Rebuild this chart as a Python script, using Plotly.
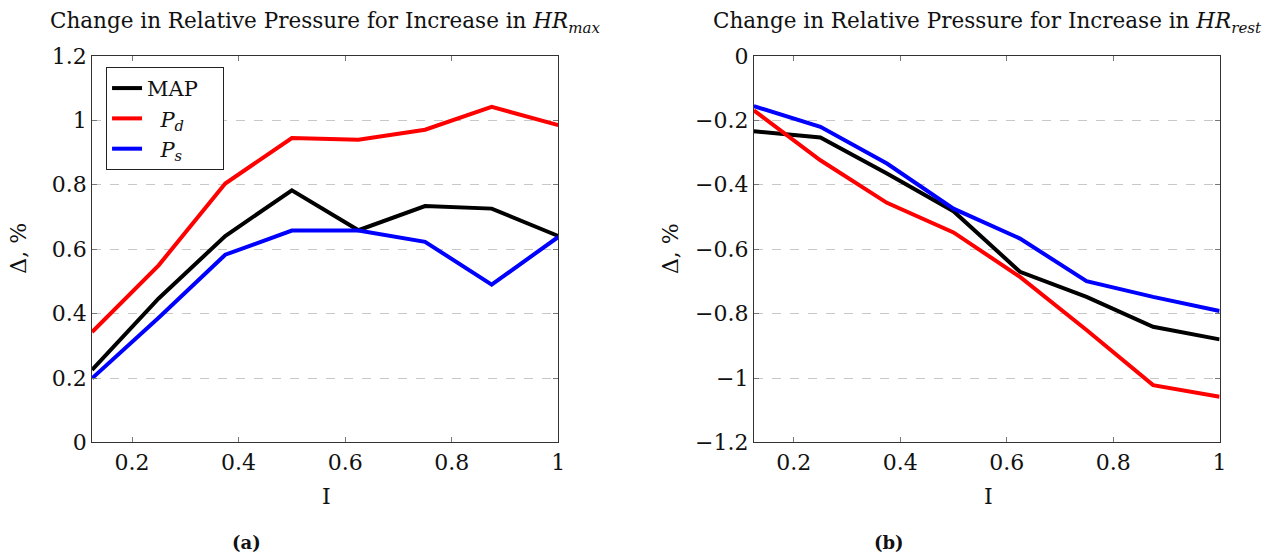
import plotly.graph_objects as go

W, H = 1271, 566

# ---- data ----
intensity = [0.125, 0.25, 0.375, 0.5, 0.625, 0.75, 0.875, 1.0]

hrmax_map = [0.225, 0.447, 0.641, 0.783, 0.659, 0.734, 0.726, 0.641]
hrmax_pd = [0.343, 0.550, 0.804, 0.945, 0.940, 0.971, 1.042, 0.985]
hrmax_ps = [0.199, 0.387, 0.583, 0.658, 0.658, 0.623, 0.490, 0.638]

hrrest_map = [-0.234, -0.253, -0.365, -0.482, -0.670, -0.748, -0.841, -0.880]
hrrest_pd = [-0.169, -0.324, -0.456, -0.548, -0.686, -0.851, -1.022, -1.058]
hrrest_ps = [-0.156, -0.220, -0.334, -0.474, -0.567, -0.699, -0.748, -0.792]

x_tickvals = [0.2, 0.4, 0.6, 0.8, 1.0]
x_ticktext = ["0.2", "0.4", "0.6", "0.8", "1"]
yl_tickvals = [0, 0.2, 0.4, 0.6, 0.8, 1.0, 1.2]
yl_ticktext = ["0", "0.2", "0.4", "0.6", "0.8", "1", "1.2"]
yr_tickvals = [-1.2, -1.0, -0.8, -0.6, -0.4, -0.2, 0]
yr_ticktext = ["\u22121.2", "\u22121", "\u22120.8", "\u22120.6", "\u22120.4", "\u22120.2", "0"]

series_names = ["MAP\u00a0\u00a0\u00a0",
                "\u00a0\u00a0<i>P</i><sub><i>d</i></sub>",
                "\u00a0\u00a0<i>P</i><sub><i>s</i></sub>"]
colors = ["#000000", "#ff0000", "#0000ff"]

FONT = "DejaVu Serif"
FS = 22


# layout helpers: convert target picture pixels to paper fractions
def X(px):
    return (px / 0.994) / W


def Y(py):
    return (H - (py - 10) / 0.957) / H


fig = go.Figure()
left = [hrmax_map, hrmax_pd, hrmax_ps]
right = [hrrest_map, hrrest_pd, hrrest_ps]
for i in range(3):
    fig.add_trace(go.Scatter(x=intensity, y=left[i], mode="lines", name=series_names[i],
                             line=dict(color=colors[i], width=4), xaxis="x", yaxis="y",
                             showlegend=True))
for i in range(3):
    fig.add_trace(go.Scatter(x=intensity, y=right[i], mode="lines", name=series_names[i],
                             line=dict(color=colors[i], width=4), xaxis="x2", yaxis="y2",
                             showlegend=False))

ydom = [Y(441), Y(54)]
axis_common = dict(showline=True, linecolor="#333", linewidth=1, mirror="allticks",
                   ticks="inside", ticklen=5, tickcolor="#777", tickwidth=1,
                   tickfont=dict(family=FONT, size=FS, color="#111"), zeroline=False)

fig.update_layout(
    width=W, height=H, margin=dict(l=0, r=0, t=0, b=0),
    paper_bgcolor="white", plot_bgcolor="white",
    font=dict(family=FONT, size=FS, color="#111"),
    xaxis=dict(domain=[X(92), X(558)], range=[0.125, 1.0], tickvals=x_tickvals,
               ticktext=x_ticktext, showgrid=False, anchor="y", **axis_common),
    yaxis=dict(domain=ydom, range=[0, 1.2], tickvals=yl_tickvals, ticktext=yl_ticktext,
               showgrid=True, gridcolor="#c8c8c8", griddash="dash", gridwidth=1,
               anchor="x", **axis_common),
    xaxis2=dict(domain=[X(753.5), X(1219)], range=[0.125, 1.0], tickvals=x_tickvals,
                ticktext=x_ticktext, showgrid=False, anchor="y2", **axis_common),
    yaxis2=dict(domain=ydom, range=[-1.2, 0], tickvals=yr_tickvals, ticktext=yr_ticktext,
                showgrid=True, gridcolor="#c8c8c8", griddash="dash", gridwidth=1,
                anchor="x2", **axis_common),
    legend=dict(x=X(106), y=Y(65), xanchor="left", yanchor="top",
                bgcolor="white", bordercolor="#222", borderwidth=1,
                font=dict(family=FONT, size=21, color="#111"), tracegroupgap=0),
)


def px_ann(text, x, y, size=FS, angle=0, **kw):
    fig.add_annotation(text=text, x=X(x), y=Y(y), xref="paper", yref="paper",
                       showarrow=False, textangle=angle, xanchor="center", yanchor="middle",
                       font=dict(family=FONT, size=size, color="#111"), **kw)


px_ann("Change in Relative Pressure for Increase in <i>HR</i><sub><i>max</i></sub>", 325, 21, size=21.5)
px_ann("Change in Relative Pressure for Increase in <i>HR</i><sub><i>rest</i></sub>", 987, 21, size=21.5)
px_ann("\u0394, %", 19, 247, angle=-90)
px_ann("\u0394, %", 670, 247, angle=-90)
px_ann("I", 326, 495)
px_ann("I", 988, 495)
px_ann("<b>(a)</b>", 246, 541, size=18)
px_ann("<b>(b)</b>", 889, 541, size=18)

fig.write_html("out.html")
